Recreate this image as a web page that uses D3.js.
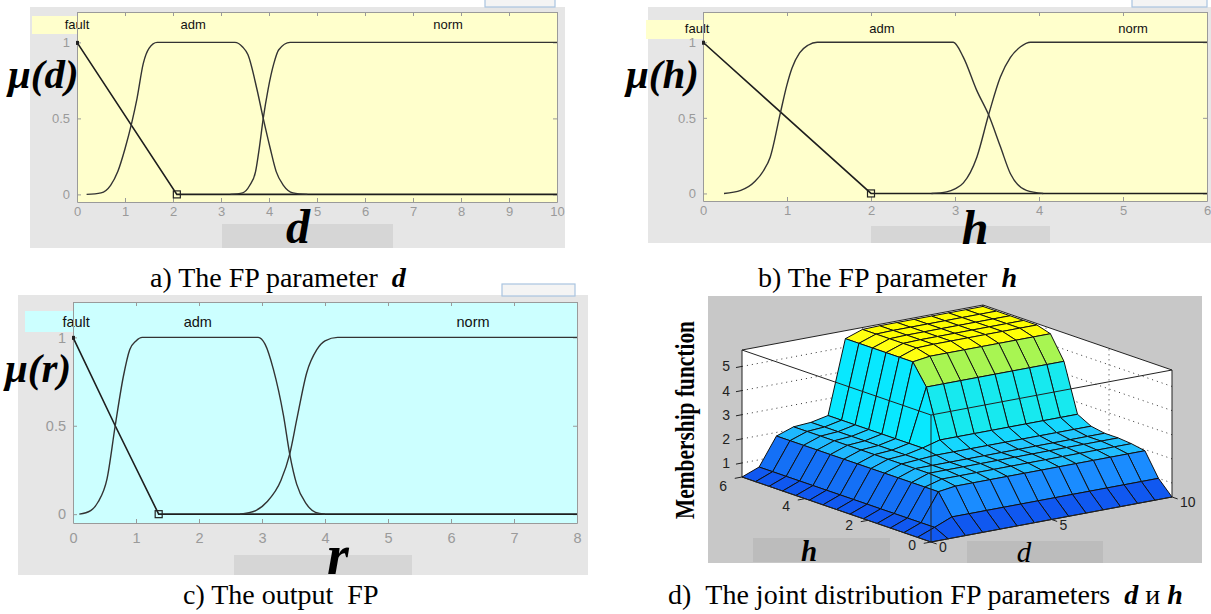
<!DOCTYPE html>
<meta charset="utf-8">
<style>
body { margin: 0; background: #fff; }
svg text { font-family: "Liberation Sans", Arial, sans-serif; }
.serif { font-family: "Liberation Serif", "Times New Roman", serif !important; }
</style>
<body>
<script src="https://d3js.org/d3.v7.min.js"></script>
<script>

// ---------- data ----------
var mfNames = ["fault", "adm", "norm"];

// a) parameter d, 0..10
var dTicks = [0, 1, 2, 3, 4, 5, 6, 7, 8, 9, 10];
var dFault = [[0, 1], [2.08, 0], [10, 0]];
var dAdm = [[0.2, 0], [0.5, 0.01], [0.7, 0.06], [0.85, 0.15], [1.0, 0.3], [1.14, 0.47], [1.25, 0.63],
            [1.38, 0.86], [1.5, 0.96], [1.67, 1], [3.29, 1], [3.45, 0.97], [3.56, 0.92], [3.75, 0.69],
            [3.88, 0.5], [4.02, 0.31], [4.15, 0.15], [4.3, 0.06], [4.5, 0.01], [4.8, 0]];
var dNorm = [[3.2, 0], [3.45, 0.01], [3.6, 0.06], [3.72, 0.15], [3.8, 0.31], [3.88, 0.5], [3.98, 0.69],
             [4.1, 0.86], [4.2, 0.95], [4.44, 1], [10, 1]];
var dLabelAt = [0, 2.42, 7.73];
var dMarker = 2.08;

// b) parameter h, 0..6
var hTicks = [0, 1, 2, 3, 4, 5, 6];
var hFault = [[0, 1], [2.0, 0], [6, 0]];
var hAdm = [[0.25, 0], [0.45, 0.02], [0.62, 0.08], [0.72, 0.15], [0.8, 0.24], [0.92, 0.53], [1.0, 0.72],
            [1.06, 0.83], [1.15, 0.93], [1.25, 0.98], [1.36, 1], [2.98, 1], [3.1, 0.9], [3.26, 0.68],
            [3.4, 0.52], [3.54, 0.31], [3.66, 0.13], [3.85, 0.02], [4.05, 0]];
var hNorm = [[2.72, 0], [2.9, 0.01], [3.0, 0.03], [3.1, 0.07], [3.26, 0.24], [3.4, 0.52], [3.54, 0.77],
             [3.66, 0.9], [3.78, 0.97], [3.9, 1], [6, 1]];
var hLabelAt = [-0.07, 2.13, 5.12];
var hMarker = 2.0;

// c) output r, 0..8
var rTicks = [0, 1, 2, 3, 4, 5, 6, 7, 8];
var rFault = [[0, 1], [0.67, 0.5], [1.36, 0], [8, 0]];
var rAdm = [[0.1, 0], [0.28, 0.02], [0.4, 0.07], [0.54, 0.2], [0.67, 0.5], [0.8, 0.78], [0.9, 0.93],
            [1.0, 0.98], [1.1, 1], [2.94, 1], [3.05, 0.96], [3.18, 0.82], [3.34, 0.56], [3.44, 0.34],
            [3.55, 0.17], [3.7, 0.06], [3.85, 0.01], [4.0, 0]];
var rNorm = [[2.65, 0], [2.9, 0.02], [3.08, 0.07], [3.3, 0.19], [3.44, 0.34], [3.56, 0.55], [3.71, 0.8],
             [3.87, 0.93], [4.0, 0.98], [4.2, 1], [8, 1]];
var rLabelAt = [0.05, 1.98, 6.35];
var rMarker = 1.36;

var muTicks = [0, 0.5, 1];

// d) output surface r(h, d)
var hGrid = [0, 0.43, 0.86, 1.29, 1.71, 2.14, 2.57, 3, 3.43, 3.86, 4.29, 4.71, 5.14, 5.57, 6];
var dGrid = [0, 0.71, 1.43, 2.14, 2.86, 3.57, 4.29, 5, 5.71, 6.43, 7.14, 7.86, 8.57, 9.29, 10];
var zGrid = [
  [0.42, 0.42, 0.42, 0.42, 0.42, 0.42, 0.42, 0.42, 0.42, 0.42, 0.42, 0.42, 0.42, 0.42, 0.42],
  [0.42, 0.70, 1.00, 1.00, 1.00, 1.00, 1.00, 1.00, 1.00, 1.00, 1.00, 1.00, 1.00, 1.00, 1.00],
  [0.42, 0.70, 1.85, 1.95, 1.95, 1.95, 1.95, 1.95, 1.95, 1.95, 1.95, 1.95, 1.95, 1.95, 1.95],
  [0.42, 0.70, 1.85, 2.05, 2.05, 2.05, 2.05, 2.05, 2.05, 2.05, 2.05, 2.05, 2.05, 2.05, 2.05],
  [0.42, 0.70, 1.85, 2.10, 2.10, 2.10, 2.10, 2.10, 2.10, 2.10, 2.10, 2.10, 2.10, 2.10, 2.10],
  [0.42, 0.70, 1.85, 2.10, 2.10, 2.10, 2.10, 2.10, 2.10, 2.10, 2.10, 2.10, 2.10, 2.10, 2.10],
  [0.42, 0.70, 1.85, 2.10, 2.15, 2.20, 2.20, 2.20, 2.20, 2.20, 2.20, 2.20, 2.20, 2.20, 2.20],
  [0.42, 0.70, 1.85, 2.10, 2.15, 2.30, 2.50, 2.50, 2.50, 2.50, 2.50, 2.50, 2.50, 2.50, 2.50],
  [0.42, 0.70, 1.85, 2.10, 2.15, 2.30, 4.50, 4.50, 4.50, 4.50, 4.50, 4.50, 4.50, 4.50, 4.50],
  [0.42, 0.70, 1.85, 2.10, 2.15, 2.30, 5.35, 5.45, 5.45, 5.45, 5.45, 5.45, 5.45, 5.45, 5.45],
  [0.42, 0.70, 1.85, 2.10, 2.15, 2.30, 5.35, 5.60, 5.62, 5.62, 5.62, 5.62, 5.62, 5.62, 5.62],
  [0.42, 0.70, 1.85, 2.10, 2.15, 2.30, 5.35, 5.60, 5.62, 5.62, 5.62, 5.62, 5.62, 5.62, 5.62],
  [0.42, 0.70, 1.85, 2.10, 2.15, 2.30, 5.35, 5.60, 5.62, 5.62, 5.62, 5.62, 5.62, 5.62, 5.62],
  [0.42, 0.70, 1.85, 2.10, 2.15, 2.30, 5.35, 5.60, 5.62, 5.62, 5.62, 5.62, 5.62, 5.62, 5.62],
  [0.42, 0.70, 1.85, 2.10, 2.15, 2.30, 5.35, 5.60, 5.62, 5.62, 5.62, 5.62, 5.62, 5.62, 5.62]
];
var zTicks = [1, 2, 3, 4, 5];
var hAxisTicks = [0, 2, 4, 6];
var dAxisTicks = [0, 5, 10];

// ---------- drawing ----------
var svg = d3.select("body").append("svg")
    .attr("width", 1211)
    .attr("height", 614);

function mfPanel(c, curves, labelAt, ticks, markerX) {
  var g = svg.append("g");
  g.append("rect")
      .attr("x", c.bg[0]).attr("y", c.bg[1])
      .attr("width", c.bg[2] - c.bg[0]).attr("height", c.bg[3] - c.bg[1])
      .attr("fill", "#e6e6e6");
  // little outlined button at the top right
  g.append("rect")
      .attr("x", c.btn[0]).attr("y", c.btn[1])
      .attr("width", c.btn[2] - c.btn[0]).attr("height", c.btn[3] - c.btn[1])
      .attr("fill", "#f4f4f4").attr("stroke", "#a9c4e0").attr("stroke-width", 1.2);

  var x = d3.scaleLinear().domain([0, ticks[ticks.length - 1]]).range([c.plot[0], c.plot[2]]);
  var y = d3.scaleLinear().domain([-0.05, 1.2]).range([c.plot[3], c.plot[1]]);

  g.append("rect")
      .attr("x", c.plot[0]).attr("y", c.plot[1])
      .attr("width", c.plot[2] - c.plot[0]).attr("height", c.plot[3] - c.plot[1])
      .attr("fill", c.fill);

  // label band over the top of the plot
  g.append("rect")
      .attr("x", c.band[0]).attr("y", c.band[1])
      .attr("width", c.band[2] - c.band[0]).attr("height", c.band[3] - c.band[1])
      .attr("fill", c.fill);
  g.selectAll(".mfname").data(mfNames).enter().append("text")
      .attr("x", function(d, i) { return x(labelAt[i]); })
      .attr("y", c.bandText)
      .attr("text-anchor", "middle")
      .style("font-size", c.fs + "px")
      .attr("fill", "#111")
      .text(function(d) { return d; });

  // axes, ticks pointing inwards
  function styleAxis(a) {
    a.attr("font-family", null).attr("font-size", null);
    a.select(".domain").attr("stroke", "#9a9a9a");
    a.selectAll(".tick line").attr("stroke", "#9a9a9a");
    a.selectAll("text").attr("fill", "#9a9a9a").style("font-size", c.fs + "px");
  }
  g.append("g").attr("transform", "translate(0," + c.plot[3] + ")")
      .call(d3.axisBottom(x).tickValues(ticks).tickSize(-4).tickSizeOuter(0).tickPadding(c.xPad)
            .tickFormat(d3.format("d")))
      .call(styleAxis);
  g.append("g").attr("transform", "translate(0," + c.plot[1] + ")")
      .call(d3.axisTop(x).tickValues(ticks).tickSize(-4).tickSizeOuter(0).tickFormat(""))
      .call(styleAxis);
  g.append("g").attr("transform", "translate(" + c.plot[0] + ",0)")
      .call(d3.axisLeft(y).tickValues(muTicks).tickSize(-4).tickSizeOuter(0).tickPadding(7)
            .tickFormat(d3.format("")))
      .call(styleAxis);
  g.append("g").attr("transform", "translate(" + c.plot[2] + ",0)")
      .call(d3.axisRight(y).tickValues(muTicks).tickSize(-4).tickSizeOuter(0).tickFormat(""))
      .call(styleAxis);

  // membership curves
  var line = d3.line().x(function(p) { return x(p[0]); }).y(function(p) { return y(p[1]); });
  g.append("path").attr("d", line.curve(d3.curveLinear)(curves[0]))
      .attr("fill", "none").attr("stroke", "#1e1e1e").attr("stroke-width", 1.6);
  [curves[1], curves[2]].forEach(function(cv) {
    g.append("path").attr("d", line.curve(d3.curveMonotoneX)(cv))
        .attr("fill", "none").attr("stroke", "#333").attr("stroke-width", 1.4);
  });
  g.append("rect").attr("x", x(markerX) - 3.5).attr("y", y(0) - 3.5)
      .attr("width", 7).attr("height", 7)
      .attr("fill", "none").attr("stroke", "#222").attr("stroke-width", 1.2);
  g.append("rect").attr("x", x(0) - 1).attr("y", y(1) - 1.5)
      .attr("width", 3).attr("height", 4).attr("fill", "#222");

  // grey bar under the axis and the big hand-written letters
  g.append("rect")
      .attr("x", c.bar[0]).attr("y", c.bar[1])
      .attr("width", c.bar[2] - c.bar[0]).attr("height", c.bar[3] - c.bar[1])
      .attr("fill", "#d6d6d6");
  g.append("text").attr("class", "serif")
      .attr("x", c.letter[0]).attr("y", c.letter[1])
      .attr("text-anchor", "middle")
      .style("font-size", c.letter[2] + "px").style("font-weight", "bold").style("font-style", "italic")
      .text(c.letterText);
  g.append("text").attr("class", "serif")
      .attr("x", c.mu[0]).attr("y", c.mu[1])
      .style("font-size", c.mu[2] + "px").style("font-weight", "bold").style("font-style", "italic")
      .text(c.muText);
}

mfPanel({bg: [30, 7, 565, 248], btn: [485, -4, 555, 7], plot: [77, 12, 557, 202], fill: "#ffffcc",
         band: [32, 16, 557, 34], bandText: 29, fs: 13, xPad: 5, bar: [222, 224, 393, 248],
         letter: [298, 243, 48], letterText: "d", mu: [8, 88, 41], muText: "\u03bc(d)"},
        [dFault, dAdm, dNorm], dLabelAt, dTicks, dMarker);

mfPanel({bg: [648, 7, 1211, 243], btn: [1132, -4, 1207, 7], plot: [703, 12, 1207, 201], fill: "#ffffcc",
         band: [646, 20, 1207, 39], bandText: 33, fs: 13, xPad: 5, bar: [871, 226, 1050, 243],
         letter: [975, 244, 48], letterText: "h", mu: [626, 88, 41], muText: "\u03bc(h)"},
        [hFault, hAdm, hNorm], hLabelAt, hTicks, hMarker);

mfPanel({bg: [18, 295, 588, 575], btn: [502, 284, 575, 296], plot: [73, 302, 577, 523], fill: "#ccffff",
         band: [25, 311, 577, 332], bandText: 327, fs: 14.5, xPad: 10, bar: [234, 555, 412, 575],
         letter: [338, 574, 56], letterText: "r", mu: [5, 382, 41], muText: "\u03bc(r)"},
        [rFault, rAdm, rNorm], rLabelAt, rTicks, rMarker);

// ---------- d) surface ----------
var gd = svg.append("g");
gd.append("rect").attr("x", 708).attr("y", 296).attr("width", 494).attr("height", 267).attr("fill", "#c8c8c8");

var hx = d3.scaleLinear().domain([0, 6]).range([0, -189]);
var hy = d3.scaleLinear().domain([0, 6]).range([0, -65]);
var dx = d3.scaleLinear().domain([0, 10]).range([0, 241]);
var dy = d3.scaleLinear().domain([0, 10]).range([0, -45]);
var zs = d3.scaleLinear().domain([0.42, 5.68]).range([0, 127]);
var zMin = 0.42, zMax = 5.68;
function P(h, d, z) { return [931 + hx(h) + dx(d), 542 + hy(h) + dy(d) - zs(z)]; }
function poly(pts) { return "M" + pts.map(function(p) { return p[0] + "," + p[1]; }).join("L") + "Z"; }
function seg(a, b) { return "M" + a[0] + "," + a[1] + "L" + b[0] + "," + b[1]; }

// back walls
gd.append("path").attr("d", poly([P(6, 0, zMin), P(6, 10, zMin), P(6, 10, zMax), P(6, 0, zMax)]))
    .attr("fill", "#fff").attr("stroke", "#222");
gd.append("path").attr("d", poly([P(0, 10, zMin), P(6, 10, zMin), P(6, 10, zMax), P(0, 10, zMax)]))
    .attr("fill", "#fff").attr("stroke", "#222");
var grid = [];
zTicks.forEach(function(z) {
  grid.push(seg(P(6, 0, z), P(6, 10, z)));
  grid.push(seg(P(0, 10, z), P(6, 10, z)));
});
grid.push(seg(P(6, 5, zMin), P(6, 5, zMax)));
[2, 4].forEach(function(h) { grid.push(seg(P(h, 10, zMin), P(h, 10, zMax))); });
gd.append("path").attr("d", grid.join(""))
    .attr("fill", "none").attr("stroke", "#333").attr("stroke-width", 1).attr("stroke-dasharray", "1,4");

// surface cells, far ones first
var colour = d3.scaleLinear()
    .domain([0.42, 0.7, 1.0, 1.85, 2.1, 2.3, 4.5, 5.35])
    .range(["#1058f0", "#1470f6", "#1a8cff", "#1eb8ff", "#22c6ff", "#08e8ff", "#a8f552", "#ffff10"]);
var cells = [];
for (var i = 0; i < hGrid.length - 1; i++) {
  for (var j = 0; j < dGrid.length - 1; j++) {
    cells.push({
      pts: [P(hGrid[i], dGrid[j], zGrid[i][j]), P(hGrid[i + 1], dGrid[j], zGrid[i + 1][j]),
            P(hGrid[i + 1], dGrid[j + 1], zGrid[i + 1][j + 1]), P(hGrid[i], dGrid[j + 1], zGrid[i][j + 1])],
      z: zGrid[i][j],
      depth: 10.83 * (hGrid[i] + hGrid[i + 1]) / 2 + 4.5 * (dGrid[j] + dGrid[j + 1]) / 2
    });
  }
}
cells.sort(function(a, b) { return b.depth - a.depth; });
gd.selectAll(".cell").data(cells).enter().append("path")
    .attr("d", function(c) { return poly(c.pts); })
    .attr("fill", function(c) { return colour(c.z); })
    .attr("stroke", "#111").attr("stroke-width", 1).attr("stroke-linejoin", "round");

// front box edges
var box = [seg(P(6, 0, zMax), P(0, 0, zMax)), seg(P(0, 0, zMax), P(0, 10, zMax)),
           seg(P(0, 0, zMin), P(0, 0, zMax)), seg(P(6, 0, zMin), P(0, 0, zMin)),
           seg(P(0, 0, zMin), P(0, 10, zMin))];
gd.append("path").attr("d", box.join("")).attr("fill", "none").attr("stroke", "#222").attr("stroke-width", 1);

// tick marks and labels
var tk = [];
zTicks.forEach(function(z) { tk.push(seg(P(6, 0, z), P(6, -0.25, z))); });
hAxisTicks.forEach(function(h) { tk.push(seg(P(h, 0, zMin), P(h, -0.3, zMin))); });
dAxisTicks.forEach(function(d) { tk.push(seg(P(0, d, zMin), P(-0.18, d, zMin))); });
gd.append("path").attr("d", tk.join("")).attr("stroke", "#222").attr("stroke-width", 1);

gd.selectAll(".zl").data(zTicks).enter().append("text")
    .attr("x", function(z) { return P(6, 0, z)[0] - 12; })
    .attr("y", function(z) { return P(6, 0, z)[1] + 5; })
    .attr("text-anchor", "end").style("font-size", "14px").attr("fill", "#222")
    .text(function(z) { return z; });
gd.selectAll(".hl").data(hAxisTicks).enter().append("text")
    .attr("x", function(h) { return P(h, 0, zMin)[0] - 15; })
    .attr("y", function(h) { return P(h, 0, zMin)[1] + 8 + h; })
    .attr("text-anchor", "end").style("font-size", "14px").attr("fill", "#222")
    .text(function(h) { return h; });
gd.selectAll(".dl").data(dAxisTicks).enter().append("text")
    .attr("x", function(d) { return P(0, d, zMin)[0] + 8; })
    .attr("y", function(d) { return P(0, d, zMin)[1] + 10; })
    .attr("text-anchor", "start").style("font-size", "14px").attr("fill", "#222")
    .text(function(d) { return d; });

gd.append("rect").attr("x", 753).attr("y", 538).attr("width", 137).attr("height", 24).attr("fill", "#bcbcbc");
gd.append("rect").attr("x", 967).attr("y", 541).attr("width", 136).attr("height", 22).attr("fill", "#bcbcbc");
gd.append("text").attr("class", "serif").attr("x", 809).attr("y", 561).attr("text-anchor", "middle")
    .style("font-size", "29px").style("font-weight", "bold").style("font-style", "italic").text("h");
gd.append("text").attr("class", "serif").attr("x", 1024).attr("y", 562).attr("text-anchor", "middle")
    .style("font-size", "29px").style("font-style", "italic").text("d");

svg.append("text").attr("class", "serif")
    .attr("transform", "translate(694,420) rotate(-90)")
    .attr("text-anchor", "middle")
    .attr("textLength", 198).attr("lengthAdjust", "spacingAndGlyphs")
    .style("font-size", "27px").style("font-weight", "bold")
    .text("Membership function");

// ---------- captions ----------
function caption(x, y, parts) {
  var t = svg.append("text").attr("class", "serif").attr("x", x).attr("y", y).style("font-size", "28px");
  parts.forEach(function(p) {
    var s = t.append("tspan").text(p[0]);
    if (p[1]) s.style("font-weight", "bold").style("font-style", "italic");
  });
}
caption(150, 287, [["a) The FP parameter \u00a0"], ["d", 1]]);
caption(758, 287, [["b) The FP parameter \u00a0"], ["h", 1]]);
caption(183, 604, [["c) The output \u00a0FP"]]);
caption(668, 604, [["d) \u00a0The joint distribution FP parameters \u00a0"], ["d", 1], [" \u0438 "], ["h", 1]]);
</script>
</body>
